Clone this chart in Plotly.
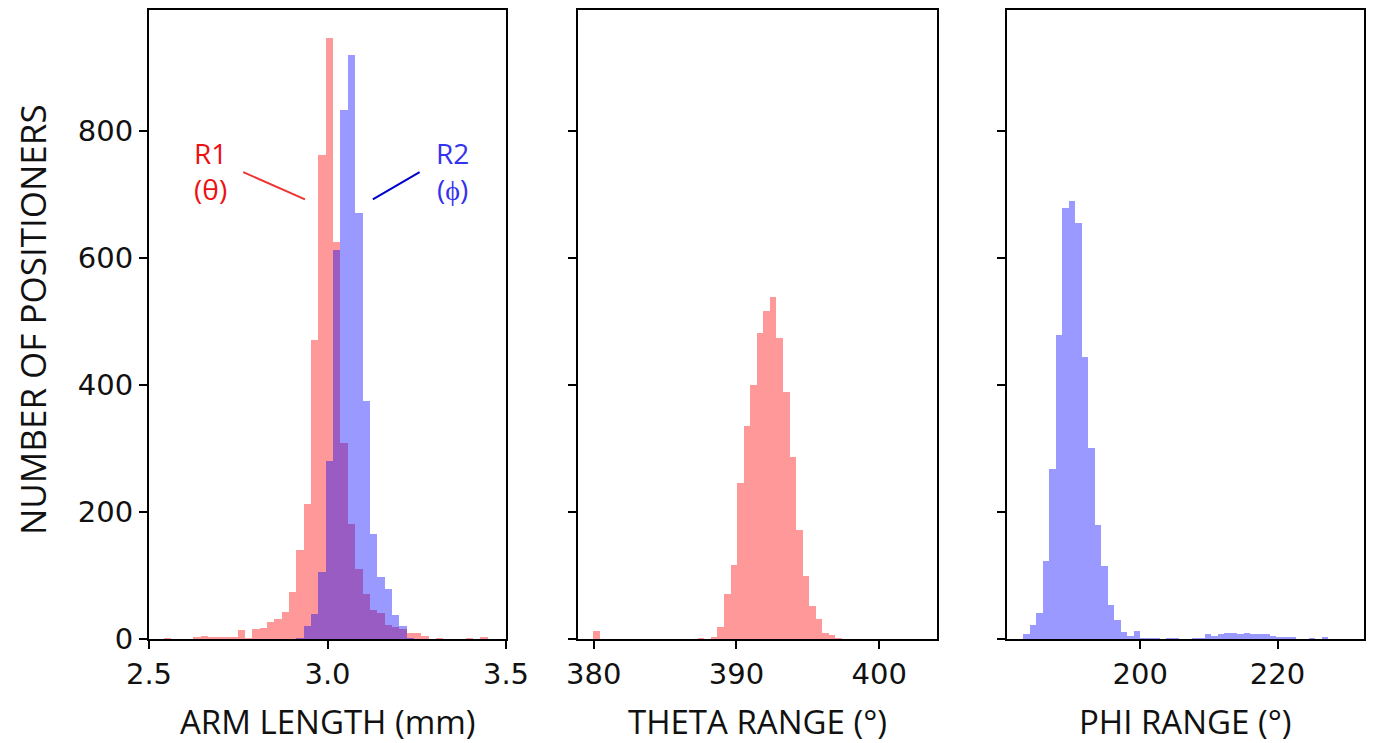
import plotly.graph_objects as go

# ---------------- data ----------------
ARM_BIN_START = 2.542
ARM_BIN_WIDTH = 0.0206
R1_COUNTS = [3, 0, 1, 1, 4, 5, 4, 4, 4, 4, 15, 2, 16, 18, 27, 32, 44, 75, 141, 213,
             471, 763, 947, 625, 309, 182, 111, 71, 46, 42, 23, 19, 16, 11, 11, 6,
             0, 3, 1, 0, 0, 3, 0, 4, 0]
R2_COUNTS = [0, 0, 0, 0, 0, 0, 0, 0, 0, 0, 0, 0, 0, 0, 0, 0, 0, 0, 2, 22,
             40, 106, 281, 613, 833, 920, 671, 375, 166, 98, 79, 39, 21, 2, 0, 0,
             0, 0, 0, 0, 0, 0, 0, 0, 0]

THETA_BIN_START = 379.95
THETA_BIN_WIDTH = 0.459
THETA_COUNTS = [13, 0, 0, 0, 0, 0, 0, 0, 0, 0, 0, 0, 0, 0, 0, 0, 2, 1, 4, 20,
                72, 117, 246, 336, 401, 482, 517, 539, 475, 390, 287, 172, 100, 53, 32, 11,
                7, 3, 0, 0, 0, 0, 0, 0, 0, 0, 0, 0, 0, 1]

PHI_BIN_START = 183.0
PHI_BIN_WIDTH = 0.944
PHI_COUNTS = [8, 23, 42, 123, 268, 480, 679, 691, 656, 445, 302, 181, 115, 55, 31, 12,
              5, 14, 3, 2, 2, 0, 3, 3, 0, 1, 3, 3, 8, 5, 9, 11, 11, 9, 11, 9, 8, 8, 6,
              4, 4, 4, 0, 0, 2, 0, 4, 0, 0, 1]

Y_TICKS = [0, 200, 400, 600, 800]
ARM_TICKS = [2.5, 3.0, 3.5]
ARM_TICK_TEXT = ["2.5", "3.0", "3.5"]
THETA_TICKS = [380, 390, 400]
PHI_TICKS = [200, 220]

X_TITLES = ["ARM LENGTH (mm)", "THETA RANGE (°)", "PHI RANGE (°)"]
Y_TITLE = "NUMBER OF POSITIONERS"


def centers(start, width, n):
    return [start + width * (i + 0.5) for i in range(n)]


RED = "rgba(255,0,0,0.4)"
BLUE = "rgba(0,0,255,0.4)"

fig = go.Figure()

fig.add_trace(go.Bar(x=centers(ARM_BIN_START, ARM_BIN_WIDTH, len(R1_COUNTS)), y=R1_COUNTS,
                     width=ARM_BIN_WIDTH, marker=dict(color=RED, line=dict(width=0)),
                     xaxis="x", yaxis="y", name="R1"))
fig.add_trace(go.Bar(x=centers(ARM_BIN_START, ARM_BIN_WIDTH, len(R2_COUNTS)), y=R2_COUNTS,
                     width=ARM_BIN_WIDTH, marker=dict(color=BLUE, line=dict(width=0)),
                     xaxis="x", yaxis="y", name="R2"))
fig.add_trace(go.Bar(x=centers(THETA_BIN_START, THETA_BIN_WIDTH, len(THETA_COUNTS)), y=THETA_COUNTS,
                     width=THETA_BIN_WIDTH, marker=dict(color=RED, line=dict(width=0)),
                     xaxis="x2", yaxis="y2", name="theta"))
fig.add_trace(go.Bar(x=centers(PHI_BIN_START, PHI_BIN_WIDTH, len(PHI_COUNTS)), y=PHI_COUNTS,
                     width=PHI_BIN_WIDTH, marker=dict(color=BLUE, line=dict(width=0)),
                     xaxis="x3", yaxis="y3", name="phi"))

# the page puts the figure 8 px in from the window's top-left corner
OFF = 8
W, H = 1368, 735
def fx(px):
    return (px - OFF) / W
def fy(py):
    return 1 - (py - OFF) / H

tickfont = dict(family="DejaVu Sans", size=29, color="#111")
axis_common = dict(showline=True, linecolor="black", linewidth=2, mirror=True,
                   ticks="outside", ticklen=8, tickwidth=2, tickcolor="black",
                   showgrid=False, zeroline=False, tickfont=tickfont, automargin=False)

ydom = [fy(639), fy(9.5)]
yr = [0, 991]

fig.update_layout(
    width=W, height=H, margin=dict(l=0, r=0, t=0, b=0, pad=0),
    paper_bgcolor="white", plot_bgcolor="white",
    barmode="overlay", bargap=0, showlegend=False,
    xaxis=dict(domain=[fx(149), fx(506)], range=[2.5, 3.5], tickvals=ARM_TICKS,
               ticktext=ARM_TICK_TEXT, anchor="y", **axis_common),
    yaxis=dict(domain=ydom, range=yr, tickvals=Y_TICKS, anchor="x", **axis_common),
    xaxis2=dict(domain=[fx(578), fx(937)], range=[378.9, 404.05], tickvals=THETA_TICKS,
                anchor="y2", **axis_common),
    yaxis2=dict(domain=ydom, range=yr, tickvals=Y_TICKS, showticklabels=False,
                anchor="x2", **axis_common),
    xaxis3=dict(domain=[fx(1007), fx(1364)], range=[180.6, 232.6], tickvals=PHI_TICKS,
                anchor="y3", **axis_common),
    yaxis3=dict(domain=ydom, range=yr, tickvals=Y_TICKS, showticklabels=False,
                anchor="x3", **axis_common),
)

for title, cx in zip(X_TITLES, [328, 757, 1185]):
    fig.add_annotation(text=title, xref="paper", yref="paper", x=fx(cx), y=fy(721),
                       showarrow=False, font=dict(family="Open Sans", size=33, color="#111"),
                       xanchor="center", yanchor="middle")
fig.add_annotation(text=Y_TITLE, xref="paper", yref="paper", x=fx(32), y=fy(320),
                   showarrow=False, textangle=-90,
                   font=dict(family="Open Sans", size=35, color="#111"),
                   xanchor="center", yanchor="middle")

# R1 / R2 labels with leader lines (data coordinates of the first panel)
LABEL_FONT = 28
fig.add_annotation(text="R1<br>(θ)", x=2.672, y=736, xref="x", yref="y", showarrow=False,
                   font=dict(family="Open Sans", size=LABEL_FONT, color="#ee1111"),
                   align="center")
fig.add_annotation(text="R2<br>(ϕ)", x=3.35, y=736, xref="x", yref="y", showarrow=False,
                   font=dict(family="Open Sans", size=LABEL_FONT, color="#3333ee"),
                   align="center")
fig.add_shape(type="line", x0=2.764, y0=735, x1=2.937, y1=692, xref="x", yref="y",
              line=dict(color="#ee3333", width=2))
fig.add_shape(type="line", x0=3.127, y0=692, x1=3.258, y1=735, xref="x", yref="y",
              line=dict(color="#0000cc", width=2))

fig.write_html("out.html")
